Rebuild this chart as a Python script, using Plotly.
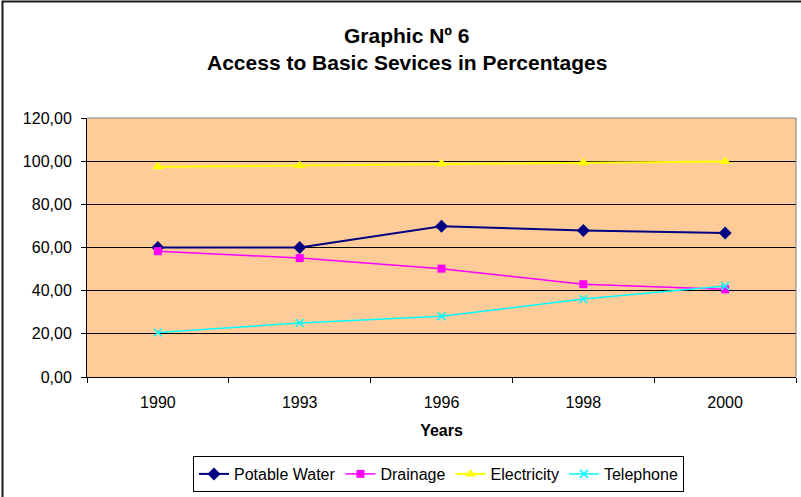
import plotly.graph_objects as go

years = ["1990", "1993", "1996", "1998", "2000"]
potable_water = [60.0, 60.0, 69.8, 67.9, 66.7]
drainage = [58.3, 55.1, 50.2, 43.0, 40.6]
electricity = [97.4, 98.0, 98.8, 99.3, 99.8]
telephone = [20.6, 25.0, 28.1, 36.1, 42.2]

FONT = "Liberation Sans, Arial, sans-serif"

series = [
    ("Potable Water", potable_water, "#000080", "diamond", 10, 2),
    ("Drainage", drainage, "#FF00FF", "square", 8, 1.5),
    ("Electricity", electricity, "#FFFF00", "triangle-up", 10, 2),
    ("Telephone", telephone, "#00FFFF", "x-thin", 8, 1.5),
]

fig = go.Figure()
for name, vals, color, symbol, size, lw in series:
    marker = dict(symbol=symbol, size=size, color=color)
    if symbol == "x-thin":
        marker["line"] = dict(color=color, width=1.5)
    fig.add_trace(go.Scatter(
        x=years, y=vals, name=name, mode="lines+markers",
        line=dict(color=color, width=lw), marker=marker,
    ))

fig.update_layout(
    width=801, height=497,
    margin=dict(l=87, r=5, t=118, b=120, autoexpand=False),
    paper_bgcolor="white",
    plot_bgcolor="#FFCC99",
    separators=",.",
    font=dict(family=FONT, size=16, color="black"),
    showlegend=True,
    legend=dict(
        orientation="h", x=0.4958, xanchor="center",
        y=(377 - 492) / 259, yanchor="bottom",
        bordercolor="black", borderwidth=1, bgcolor="white",
        font=dict(size=16), itemwidth=30, tracegroupgap=0,
    ),
    xaxis=dict(
        type="category", range=[-0.5, 4.5], tickson="boundaries",
        ticks="outside", ticklen=5, tickcolor="black",
        showline=True, linecolor="black", linewidth=1,
        showgrid=False, zeroline=False, ticklabelstandoff=11,
        title=dict(text="<b>Years</b>", font=dict(size=16), standoff=14),
        automargin=False,
    ),
    yaxis=dict(
        range=[0, 120], dtick=20, tickformat=".2f",
        ticks="outside", ticklen=5, tickcolor="black",
        showline=True, linecolor="black", linewidth=1,
        showgrid=True, gridcolor="black", gridwidth=1, zeroline=False,
        ticklabelstandoff=6, automargin=False,
    ),
    annotations=[
        dict(text="<b>Graphic Nº 6</b>", xref="paper", yref="paper",
             x=0.4513, y=1 + (118 - 35) / 259, xanchor="center", yanchor="middle",
             showarrow=False, font=dict(size=21)),
        dict(text="<b>Access to Basic Sevices in Percentages</b>", xref="paper", yref="paper",
             x=0.4513, y=1 + (118 - 62) / 259, xanchor="center", yanchor="middle",
             showarrow=False, font=dict(size=21)),
    ],
    shapes=[
        # gray top and right edges of the plot area
        dict(type="line", xref="paper", yref="paper", x0=0, x1=1, y0=1, y1=1,
             line=dict(color="#808080", width=1)),
        dict(type="line", xref="paper", yref="paper", x0=1, x1=1, y0=0, y1=1,
             line=dict(color="#808080", width=1)),
        # outer chart frame
        dict(type="rect", xref="paper", yref="paper",
             x0=(2.5 - 87) / 709, x1=1.1, y0=-0.6, y1=1 + (118 - 1.5) / 259,
             line=dict(color="#1a1a1a", width=2), layer="below"),
    ],
)

fig.write_html("out.html")
